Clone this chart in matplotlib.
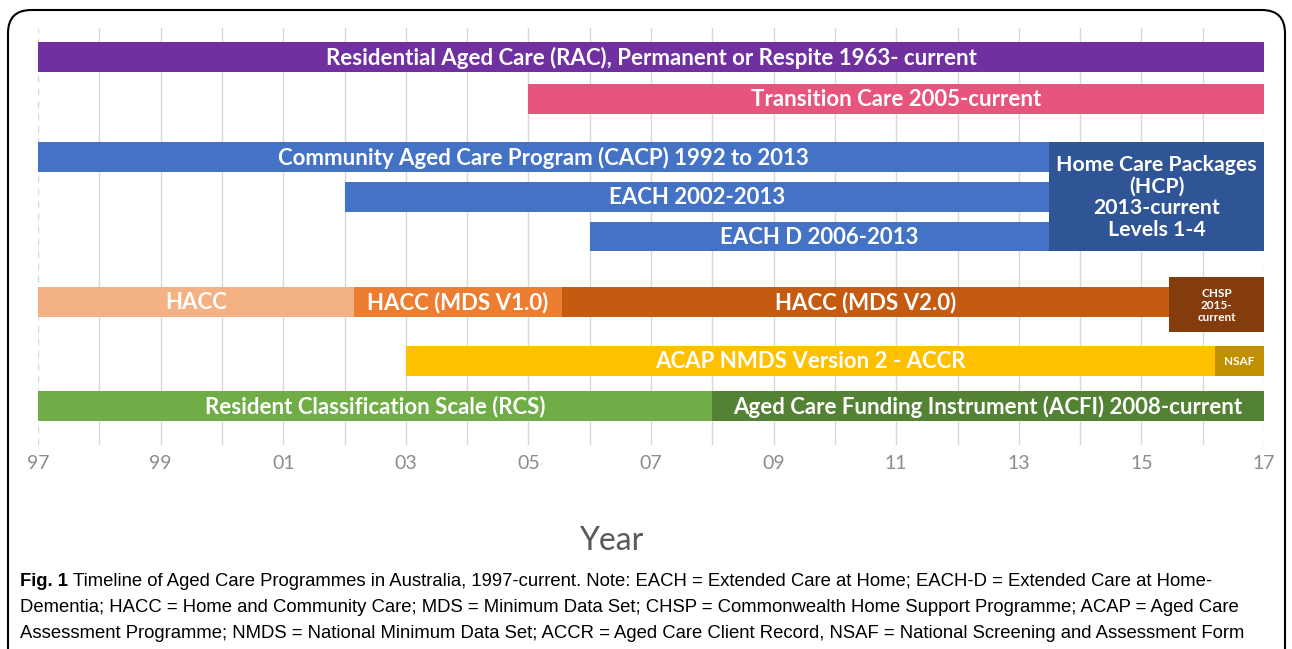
import matplotlib.pyplot as plt
from matplotlib.patches import FancyBboxPatch

# programmes (start / end in years)
labels = [
    "Residential Aged Care (RAC), Permanent or Respite 1963- current",
    "Transition Care 2005-current",
    "Community Aged Care Program (CACP) 1992 to 2013",
    "EACH 2002-2013",
    "EACH D 2006-2013",
    "Home Care Packages\n(HCP)\n2013-current\nLevels 1-4",
    "HACC",
    "HACC (MDS V1.0)",
    "HACC (MDS V2.0)",
    "CHSP\n2015-\ncurrent",
    "ACAP NMDS Version 2 - ACCR",
    "NSAF",
    "Resident Classification Scale (RCS)",
    "Aged Care Funding Instrument (ACFI) 2008-current",
]
starts = [1997, 2005, 1997, 2002, 2006, 2013.5, 1997, 2002.15, 2005.55, 2015.45,
          2003, 2016.2, 1997, 2008]
ends = [2017, 2017, 2013.5, 2013.5, 2013.5, 2017, 2002.15, 2005.55, 2015.45, 2017,
        2016.2, 2017, 2008, 2017]
colors = ["#7030A0", "#E8557C", "#4472C4", "#4472C4", "#4472C4", "#2F5597",
          "#F4B183", "#ED7D31", "#C55A11", "#843C0C", "#FFC000", "#BF9000",
          "#70AD47", "#548235"]

tick_years = list(range(1997, 2018, 2))
tick_labels = ["97", "99", "01", "03", "05", "07", "09", "11", "13", "15", "17"]

# lane layout (top-down units)
lane_y = [57, 99, 157, 197, 236.5, 196.5, 302, 302, 302, 304.5, 361, 361, 406, 406]
lane_h = [30, 30, 30, 30, 29, 109, 30, 30, 30, 55, 30, 30, 30, 30]
fsize = [16, 16, 16, 16, 16, 15.3, 16, 16, 16, 8.5, 16, 8.5, 16, 16]

W, H = 1292, 649
fig = plt.figure(figsize=(W / 100, H / 100), dpi=100)
ax = fig.add_axes([38 / W, 1 - 445 / H, (1264 - 38) / W, (445 - 28) / H])

# gridlines
for yr in range(1997, 2018):
    ls = (0, (5, 4)) if yr in (1997, 2017) else "-"
    ax.axvline(yr, color="#D9D9D9", lw=1, ls=ls, zorder=0)

for i in range(len(labels)):
    ax.barh(lane_y[i], ends[i] - starts[i], left=starts[i], height=lane_h[i],
            color=colors[i], edgecolor="none", zorder=2)
    ax.text((starts[i] + ends[i]) / 2, lane_y[i] + 1, labels[i], ha="center", va="center",
            color="white", fontsize=fsize[i], fontweight="bold", family="Lato",
            linespacing=1.1 if i == 5 else 1.15, zorder=3)

ax.set_xlim(1997, 2017)
ax.set_ylim(445, 28)
ax.set_yticks([])
ax.set_xticks(tick_years)
ax.set_xticklabels(tick_labels, color="#8C8C8C", fontsize=14, family="Lato")
ax.tick_params(axis="x", length=0, pad=7)
for s in ax.spines.values():
    s.set_visible(False)
ax.set_xlabel("Year", color="#595959", fontsize=23, family="Lato", va="center")
ax.xaxis.set_label_coords((611 - 38) / 1226, -(541 - 445) / 417)

# rounded frame (bottom edge off the page)
frame = FancyBboxPatch((8 / W, -0.2), (1285 - 8) / W, 1 - 10 / H + 0.2,
                       boxstyle="round,pad=0,rounding_size=0.018",
                       transform=fig.transFigure, fill=False, ec="black", lw=1.5,
                       mutation_aspect=W / H)
fig.add_artist(frame)

# caption
cap_lines = [
    "Timeline of Aged Care Programmes in Australia, 1997-current. Note: EACH = Extended Care at Home; EACH-D = Extended Care at Home-",
    "Dementia; HACC = Home and Community Care; MDS = Minimum Data Set; CHSP = Commonwealth Home Support Programme; ACAP = Aged Care",
    "Assessment Programme; NMDS = National Minimum Data Set; ACCR = Aged Care Client Record, NSAF = National Screening and Assessment Form",
]
cap_y = [582, 608, 633]
cap_font = ["Liberation Sans", "DejaVu Sans"]
cap_size = 13.3
t0 = fig.text(20 / W, 1 - cap_y[0] / H, "Fig. 1", fontweight="bold", fontsize=cap_size,
              family=cap_font, va="center")
fig.canvas.draw()
bb = t0.get_window_extent()
fig.text((bb.x1 + 5) / W, 1 - cap_y[0] / H, cap_lines[0], fontsize=cap_size,
         family=cap_font, va="center")
for line, y in zip(cap_lines[1:], cap_y[1:]):
    fig.text(20 / W, 1 - y / H, line, fontsize=cap_size, family=cap_font, va="center")

fig.savefig("out.png", dpi=100)
